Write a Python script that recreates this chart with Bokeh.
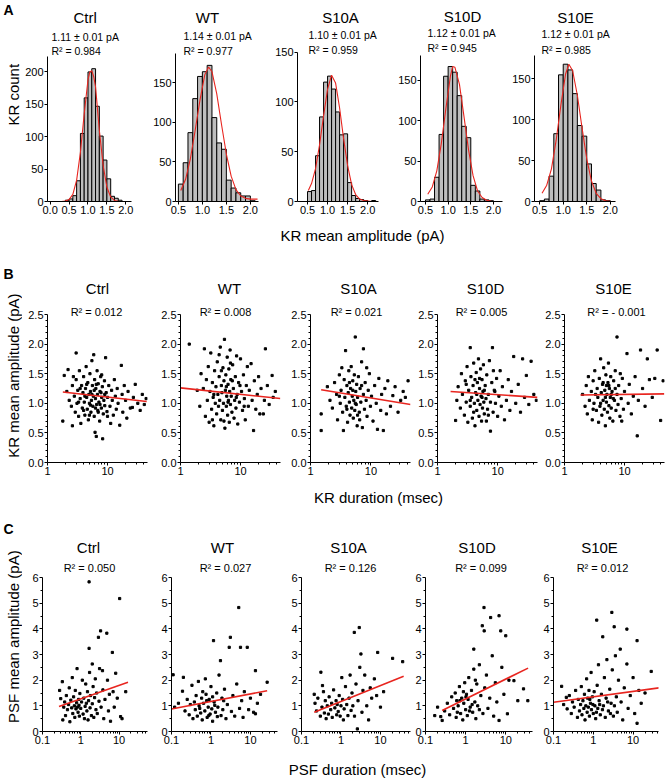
import math
from bokeh.plotting import figure
from bokeh.layouts import row, column
from bokeh.models import Range1d, Label, FixedTicker, NumeralTickFormatter
from bokeh.core.properties import value
from bokeh.embed import file_html
from bokeh.resources import INLINE

FONT = "Liberation Sans"
RED = "#e8251f"

groups = ["Ctrl", "WT", "S10A", "S10D", "S10E"]

# ---------------- Panel A: histograms ----------------
a_means = ["1.11 ± 0.01 pA", "1.14 ± 0.01 pA", "1.10 ± 0.01 pA", "1.12 ± 0.01 pA", "1.12 ± 0.01 pA"]
a_r2 = ["R² = 0.984", "R² = 0.977", "R² = 0.959", "R² = 0.945", "R² = 0.985"]

a_ctrl_bins = [0.45, 0.55, 0.65, 0.75, 0.85, 0.95, 1.05, 1.15, 1.25, 1.35, 1.45, 1.55, 1.65, 1.75, 1.85]
a_ctrl_counts = [2, 4, 9, 32, 105, 160, 200, 205, 147, 101, 64, 35, 8, 5, 2]
a_wt_bins = [0.55, 0.65, 0.75, 0.85, 0.95, 1.05, 1.15, 1.25, 1.35, 1.45, 1.55, 1.65, 1.75, 1.85, 1.95, 2.05]
a_wt_counts = [22, 49, 87, 130, 158, 164, 172, 106, 74, 66, 27, 17, 11, 7, 7, 1]
a_s10a_bins = [0.55, 0.65, 0.75, 0.85, 0.95, 1.05, 1.15, 1.25, 1.35, 1.45, 1.55, 1.65, 1.75, 1.85, 1.95, 2.05, 2.15]
a_s10a_counts = [10, 11, 46, 85, 120, 126, 113, 90, 67, 68, 19, 6, 3, 2, 1, 0, 1]
a_s10d_bins = [0.55, 0.65, 0.75, 0.85, 0.95, 1.05, 1.15, 1.25, 1.35, 1.45, 1.55, 1.65, 1.75, 1.85, 1.95]
a_s10d_counts = [2, 3, 30, 83, 155, 167, 160, 131, 93, 79, 20, 13, 3, 2, 1]
a_s10e_bins = [0.55, 0.65, 0.75, 0.85, 0.95, 1.05, 1.15, 1.25, 1.35, 1.45, 1.55, 1.65, 1.75, 1.85, 1.95]
a_s10e_counts = [1, 3, 31, 83, 155, 168, 161, 132, 93, 80, 46, 22, 14, 2, 1]

a_ctrl_fit_x = [0.0, 0.2, 0.3, 0.4, 0.5, 0.6, 0.7, 0.8, 0.9, 1.0, 1.05, 1.1, 1.15, 1.2, 1.3, 1.4, 1.5, 1.6, 1.7, 1.8, 1.9]
a_ctrl_fit_y = [0, 0, 0.1, 0.6, 3, 11, 33, 76, 135, 188, 200, 202, 193, 177, 110, 56, 22, 7, 1.6, 0.3, 0]
a_wt_fit_x = [0.55, 0.65, 0.75, 0.85, 0.95, 1.05, 1.13, 1.2, 1.3, 1.4, 1.5, 1.6, 1.7, 1.8, 1.9, 2.0, 2.15]
a_wt_fit_y = [14, 28, 54, 90, 128, 160, 170, 164, 136, 97, 60, 32, 15, 7, 4, 3, 3]
a_s10a_fit_x = [0.52, 0.6, 0.7, 0.8, 0.9, 1.0, 1.1, 1.2, 1.3, 1.4, 1.5, 1.6, 1.7, 1.8, 1.9, 2.1]
a_s10a_fit_y = [11, 18, 33, 57, 86, 113, 127, 119, 94, 63, 36, 17, 7, 2.5, 1, 0]
a_s10d_fit_x = [0.55, 0.65, 0.75, 0.85, 0.95, 1.05, 1.1, 1.15, 1.25, 1.35, 1.45, 1.55, 1.65, 1.75, 1.85, 1.95, 2.05]
a_s10d_fit_y = [9, 18, 38, 72, 115, 155, 167, 166, 145, 105, 64, 32, 13, 5, 1.5, 0.4, 0]
a_s10e_fit_x = [0.55, 0.65, 0.75, 0.85, 0.95, 1.05, 1.12, 1.2, 1.3, 1.4, 1.5, 1.6, 1.7, 1.8, 1.9, 2.0]
a_s10e_fit_y = [10, 20, 40, 75, 118, 156, 168, 160, 130, 90, 52, 25, 10, 3.5, 1, 0.3]

a_ctrl_yticks = [0, 50, 100, 150, 200]
a_yticks = [0, 50, 100, 150]
a_ctrl_xticks = [0.0, 0.5, 1.0, 1.5, 2.0]
a_xticks = [0.5, 1.0, 1.5, 2.0]

# ---------------- Panel B: KR amplitude vs duration ----------------
b_r2 = ["R² = 0.012", "R² = 0.008", "R² = 0.021", "R² = 0.005", "R² = - 0.001"]

b_ctrl_pts = [(1.8,0.70),(1.9,1.47),(2.1,1.20),(2.2,1.57),(2.3,1.05),(2.5,0.95),(2.6,0.62),(2.6,1.30),(2.8,1.12),(2.9,0.85),
    (3.0,1.85),(3.0,1.40),(3.1,1.00),(3.2,1.22),(3.3,0.78),(3.4,1.55),(3.5,1.08),(3.6,0.66),(3.7,1.30),(3.8,0.92),
    (3.9,1.18),(4.0,1.45),(4.1,1.02),(4.2,0.80),(4.3,1.25),(4.4,1.62),(4.5,1.10),(4.6,0.90),(4.7,1.35),(4.8,0.72),
    (4.9,1.15),(5.0,1.00),(5.1,1.50),(5.2,1.20),(5.3,0.85),(5.4,1.05),(5.5,1.72),(5.6,1.30),(5.7,0.95),(5.8,1.12),
    (5.9,1.82),(6.0,0.78),(6.1,1.40),(6.2,0.51),(6.3,1.08),(6.4,1.25),(6.5,0.44),(6.6,0.98),(6.7,1.55),(6.8,1.15),
    (6.9,0.88),(7.0,1.33),(7.2,1.02),(7.4,0.70),(7.5,1.20),(7.7,1.45),(7.9,0.92),(8.0,1.10),(8.2,1.28),(8.3,0.40),
    (8.5,0.82),(8.7,1.05),(8.9,1.38),(9.0,0.96),(9.3,1.77),(9.5,1.18),(9.8,0.86),(10,1.10),(10.5,1.30),(11,0.95),
    (11.3,0.66),(11.7,1.22),(12,1.05),(12.5,0.80),(13,1.40),(13.5,1.12),(14,0.90),(14.5,1.25),(15,1.00),(16,0.63),
    (17,1.64),(17.5,1.15),(18,0.85),(19,1.30),(20,1.05),(21,0.75),(22,1.20),(24,0.92),(26,0.93),(27,1.10),
    (29,1.32),(32,1.00),(35,0.88),(38,1.15),(41,0.98),(44,1.08),(3.5,1.25),(4.0,0.88),(4.5,1.32),(5.0,0.80),
    (5.5,1.15),(6.0,1.22),(6.5,1.32),(7.0,0.85),(7.5,0.98),(8.0,1.48),(9.0,1.15),(10,0.78),(4.2,1.12),(5.2,0.97),
    (6.3,0.92),(7.8,1.18),(3.3,1.02),(2.7,1.45)]
b_wt_pts = [(1.4,2.00),(1.9,1.22),(2.1,0.95),(2.2,1.50),(2.4,1.25),(2.5,1.92),(2.6,0.78),(2.7,1.40),(2.8,1.05),(2.9,1.62),
    (3.0,0.68),(3.1,1.20),(3.2,1.85),(3.3,0.90),(3.4,1.35),(3.5,1.10),(3.6,0.62),(3.7,1.55),(3.8,1.00),(3.9,1.28),
    (4.0,0.82),(4.1,1.70),(4.2,1.15),(4.3,0.95),(4.4,1.45),(4.5,1.05),(4.6,1.95),(4.7,0.72),(4.8,1.30),(4.9,1.18),
    (5.0,0.88),(5.1,1.60),(5.2,1.00),(5.3,1.38),(5.4,2.08),(5.5,0.58),(5.6,1.22),(5.7,1.48),(5.8,0.95),(5.9,1.12),
    (6.0,1.78),(6.1,0.80),(6.2,1.32),(6.3,1.05),(6.4,1.58),(6.5,0.68),(6.6,1.20),(6.7,1.90),(6.8,0.98),(6.9,1.40),
    (7.0,1.12),(7.2,0.85),(7.4,1.65),(7.6,1.25),(7.8,0.75),(8.0,1.05),(8.2,1.45),(8.4,0.92),(8.6,1.80),(8.8,1.15),
    (9.0,0.65),(9.3,1.35),(9.6,1.02),(10,1.75),(10.4,1.20),(10.8,0.88),(11.2,1.48),(11.6,1.08),(12,0.72),(12.5,1.30),
    (13,1.62),(13.5,0.95),(14,1.22),(15,1.67),(15.6,1.05),(16.5,0.54),(17,1.38),(18,0.90),(19,1.15),(20,1.45),
    (21,0.82),(22,1.25),(24,0.82),(25,1.05),(26,1.92),(28,1.30),(30,0.98),(33.6,1.47),(35,1.10),(38,1.20),
    (3.4,0.72),(4.4,1.82),(5.3,0.70),(6.2,1.02),(7.3,1.38),(8.5,1.10),(4.8,1.55),(3.6,1.15),(5.8,1.28),(6.8,1.68),
    (9.8,1.30),(11.5,0.95)]
b_s10a_pts = [(1.5,0.54),(1.5,0.82),(1.9,1.28),(2.1,1.05),(2.3,0.92),(2.5,1.35),(2.7,1.15),(2.8,0.72),(3.0,1.48),(3.1,1.00),
    (3.2,1.22),(3.4,0.85),(3.5,0.54),(3.6,1.40),(3.7,1.10),(3.8,1.89),(3.9,0.95),(4.0,1.30),(4.1,0.68),(4.2,1.18),
    (4.3,1.55),(4.4,1.02),(4.5,0.80),(4.6,1.25),(4.7,1.62),(4.8,0.92),(4.9,1.12),(5.0,1.38),(5.1,0.75),(5.2,1.05),
    (5.3,1.48),(5.4,0.88),(5.5,2.12),(5.6,1.20),(5.7,0.98),(5.8,1.32),(5.9,0.62),(6.0,1.10),(6.2,1.45),(6.4,0.85),
    (6.6,1.25),(6.8,1.02),(7.0,1.70),(7.2,0.59),(7.5,1.92),(7.5,1.15),(7.8,0.90),(8.0,1.35),(8.3,1.05),(8.6,0.78),
    (9.0,1.22),(9.4,1.50),(9.8,0.95),(10.2,1.12),(10.8,0.70),(11.5,1.30),(12.2,1.00),(12.8,0.56),(13.5,1.42),(14.5,0.88),
    (15,1.15),(16,0.54),(17,1.25),(18,0.82),(19,1.38),(21,0.95),(23,1.13),(25,1.28),(28,0.85),(31,1.05),
    (34,1.20),(37,1.10),(41,1.38),(3.3,1.60),(4.4,1.35),(5.5,1.00),(6.5,0.72),(4.0,0.90),(5.0,1.22),(7.0,1.30),
    (3.0,1.12),(8.5,1.60),(6.0,0.80)]
b_s10d_pts = [(2.0,0.71),(2.1,1.05),(2.2,1.28),(2.4,0.92),(2.5,1.50),(2.6,1.15),(2.8,0.80),(2.9,1.38),(3.0,1.02),(3.1,1.62),
    (3.2,0.68),(3.3,1.22),(3.5,1.94),(3.5,0.95),(3.6,1.45),(3.7,1.10),(3.8,0.75),(3.9,1.30),(4.0,1.68),(4.1,1.00),
    (4.2,0.62),(4.3,1.18),(4.4,1.52),(4.5,0.88),(4.6,1.35),(4.7,1.05),(4.8,1.75),(4.9,0.78),(5.0,1.25),(5.1,0.98),
    (5.2,1.58),(5.3,1.12),(5.4,0.70),(5.5,1.40),(5.6,0.92),(5.7,1.20),(5.8,1.65),(5.9,1.02),(6.0,0.82),(6.2,1.30),
    (6.4,1.08),(6.6,1.48),(6.8,0.90),(7.0,1.15),(7.3,1.72),(7.6,0.53),(7.6,1.02),(8.0,1.35),(8.2,1.94),(8.4,0.85),
    (8.8,1.22),(9.2,1.00),(9.6,1.42),(10,0.78),(10.5,1.12),(11,1.55),(11.5,0.95),(12,1.28),(13,0.72),(14,1.05),
    (15,1.40),(16,0.88),(17,1.20),(18.5,1.79),(20,1.00),(22,1.32),(24,0.85),(26,1.75),(28,1.10),(30,1.47),
    (33,0.98),(36,1.71),(40,1.15),(44,1.05),(3.0,1.32),(4.0,0.85),(4.5,1.15),(5.0,1.42),(6.0,1.22),(7.0,0.80),
    (3.5,1.05),(5.5,1.10),(8.5,1.55),(6.5,0.70),(4.2,1.40),(9.0,1.20)]
b_s10e_pts = [(2.0,1.15),(2.2,0.95),(2.3,1.30),(2.4,0.82),(2.5,1.45),(2.6,1.05),(2.8,1.20),(2.9,0.72),(3.0,1.38),(3.1,1.00),
    (3.2,1.55),(3.4,0.88),(3.5,1.25),(3.6,1.10),(3.7,0.68),(3.8,1.42),(3.9,0.95),(4.0,1.75),(4.1,1.18),(4.2,0.80),
    (4.3,1.32),(4.4,1.05),(4.5,1.60),(4.6,0.90),(4.7,1.22),(4.8,0.62),(4.9,1.48),(5.0,1.02),(5.1,1.15),(5.2,0.85),
    (5.3,1.35),(5.4,1.68),(5.5,0.96),(5.6,1.25),(5.7,0.75),(5.8,1.10),(5.9,1.45),(6.0,0.92),(6.2,1.20),(6.4,0.70),
    (6.6,1.38),(6.8,1.05),(7.0,1.55),(7.2,0.88),(7.5,2.12),(7.5,1.15),(7.8,0.98),(8.0,1.30),(8.4,0.78),(8.8,1.08),
    (9.2,1.42),(9.6,0.90),(10,1.20),(11,1.84),(11.5,1.00),(12,1.32),(13,0.82),(14,1.12),(15,1.45),(16.3,0.45),
    (17,1.05),(18.5,1.90),(20,1.25),(22,0.95),(24,1.75),(26,1.40),(29,1.10),(32,1.42),(35,1.90),(40,0.71),
    (44,1.38),(3.3,1.15),(4.4,1.35),(5.5,1.30),(6.5,1.08),(4.0,1.00),(5.0,1.30),(3.0,0.90),(7.0,1.25),(8.5,1.50),
    (6.0,1.15),(4.8,1.10),(9.0,0.70)]
# regression lines: (x_start, y_start, x_end, y_end)
b_ctrl_fit = (1.8, 1.19, 45, 1.03)
b_wt_fit = (1.0, 1.26, 46, 1.08)
b_s10a_fit = (1.5, 1.23, 45, 0.98)
b_s10d_fit = (1.65, 1.20, 46, 1.10)
b_s10e_fit = (1.85, 1.14, 46, 1.16)

b_xticks = [1, 10]
b_xminor = [2, 3, 4, 5, 6, 7, 8, 9, 20, 30, 40]
b_yticks = [0.0, 0.5, 1.0, 1.5, 2.0, 2.5]
b_yminor = [0.1, 0.2, 0.3, 0.4, 0.6, 0.7, 0.8, 0.9, 1.1, 1.2, 1.3, 1.4, 1.6, 1.7, 1.8, 1.9, 2.1, 2.2, 2.3, 2.4]

# ---------------- Panel C: PSF amplitude vs duration ----------------
c_r2 = ["R² = 0.050", "R² = 0.027", "R² = 0.126", "R² = 0.099", "R² = 0.012"]

c_ctrl_pts = [(0.28,1.60),(0.30,1.28),(0.33,1.94),(0.34,0.45),(0.36,0.95),(0.38,1.15),(0.40,0.62),(0.42,1.40),(0.45,0.85),(0.48,1.05),
    (0.50,1.70),(0.52,0.38),(0.55,1.22),(0.58,0.92),(0.60,2.10),(0.62,0.70),(0.65,1.35),(0.68,1.00),(0.70,0.55),(0.72,1.60),
    (0.75,0.88),(0.78,1.12),(0.80,2.45),(0.82,0.95),(0.85,0.75),(0.88,1.25),(0.90,1.02),(0.92,0.60),(0.95,1.48),(1.00,0.90),
    (1.05,1.15),(1.10,2.00),(1.15,0.68),(1.20,1.30),(1.25,0.50),(1.30,0.98),(1.35,1.85),(1.40,1.10),(1.45,0.80),(1.50,1.55),
    (1.55,0.45),(1.60,1.20),(1.65,5.83),(1.65,3.24),(1.70,2.30),(1.75,0.92),(1.80,1.40),(1.90,0.62),(2.00,2.63),(2.00,1.08),
    (2.10,1.75),(2.20,0.55),(2.30,1.32),(2.40,2.05),(2.50,0.85),(2.60,1.50),(2.70,0.70),(2.90,3.67),(3.00,1.18),(3.10,2.45),
    (3.30,3.92),(3.40,0.95),(3.70,2.37),(3.80,1.62),(4.00,0.50),(4.30,1.25),(4.80,3.83),(5.00,2.00),(5.30,0.80),(5.60,1.45),
    (6.00,0.40),(6.70,3.08),(7.00,1.55),(7.50,0.95),(8.20,2.27),(9.00,1.30),(10.4,5.18),(11.0,0.58),(12.0,0.50),(15.0,1.55)]
c_wt_pts = [(0.11,2.21),(0.12,0.95),(0.15,1.10),(0.19,1.57),(0.20,2.11),(0.22,0.80),(0.25,1.25),(0.28,0.65),(0.30,1.05),(0.33,1.80),
    (0.35,0.50),(0.38,1.15),(0.40,0.85),(0.42,1.40),(0.45,0.60),(0.48,1.95),(0.50,1.00),(0.55,0.72),(0.58,1.30),(0.60,0.45),
    (0.65,1.10),(0.70,0.80),(0.72,2.05),(0.75,1.45),(0.80,0.55),(0.85,0.95),(0.90,1.25),(0.95,0.68),(1.00,1.75),(1.05,0.88),
    (1.10,0.40),(1.16,3.54),(1.20,1.15),(1.30,0.75),(1.40,1.50),(1.50,0.95),(1.60,2.20),(1.74,2.76),(1.80,0.62),(1.90,1.30),
    (2.00,0.85),(2.20,1.65),(2.40,0.50),(2.60,1.05),(2.90,3.28),(3.10,3.67),(3.30,0.78),(3.60,1.40),(4.00,0.60),(4.50,1.85),
    (5.06,4.83),(5.30,0.90),(5.60,3.28),(6.00,1.20),(6.50,0.55),(7.00,1.55),(8.30,3.28),(9.00,0.85),(10.0,1.30),(12.0,0.75),
    (13.4,2.37),(13.4,0.69),(15.0,1.10),(18.0,1.45),(26.5,1.92),(0.62,1.55),(0.88,0.62),(1.25,1.02),(1.45,0.58),(2.10,1.20),
    (0.78,1.20),(1.10,1.35),(0.52,0.90)]
c_s10a_pts = [(0.21,1.45),(0.22,1.10),(0.24,0.80),(0.26,1.30),(0.30,0.60),(0.31,2.31),(0.33,0.95),(0.34,1.79),(0.36,1.55),(0.38,0.72),
    (0.40,1.20),(0.42,0.50),(0.45,1.00),(0.48,0.68),(0.50,1.35),(0.55,0.85),(0.58,1.10),(0.60,0.55),(0.65,1.62),(0.70,0.92),
    (0.75,1.20),(0.78,0.65),(0.80,1.05),(0.85,0.78),(0.90,1.40),(0.95,0.60),(1.00,1.00),(1.05,2.10),(1.10,1.25),(1.15,0.45),
    (1.20,0.88),(1.30,1.75),(1.40,1.05),(1.50,0.62),(1.60,1.30),(1.70,2.20),(1.80,0.82),(1.90,1.50),(2.00,1.00),(2.17,3.86),
    (2.20,0.60),(2.40,1.85),(2.60,0.10),(2.70,1.20),(2.90,4.05),(3.00,2.50),(3.20,3.02),(3.40,0.75),(3.60,1.60),(4.00,2.20),
    (4.50,1.00),(5.00,0.45),(5.50,1.70),(6.00,1.30),(7.00,2.05),(8.00,1.40),(8.50,3.08),(10.0,0.95),(12.0,1.55),(20.3,2.85),
    (36.5,2.72)]
c_s10d_pts = [(0.17,0.62),(0.20,0.95),(0.24,0.58),(0.26,0.43),(0.30,0.80),(0.35,1.10),(0.40,0.65),(0.45,1.35),(0.50,0.90),(0.55,1.50),
    (0.58,0.55),(0.60,1.20),(0.65,1.00),(0.70,1.75),(0.75,0.70),(0.80,1.30),(0.85,0.45),(0.90,1.10),(0.95,1.90),(1.00,0.85),
    (1.05,1.45),(1.10,0.62),(1.15,1.25),(1.20,2.10),(1.30,0.95),(1.40,1.60),(1.50,0.75),(1.60,3.21),(1.60,2.43),(1.70,1.15),
    (1.80,0.50),(1.90,1.85),(2.00,1.00),(2.20,2.60),(2.40,1.40),(2.60,4.12),(2.70,0.70),(2.87,4.83),(2.90,3.92),(3.00,1.70),
    (3.30,2.20),(3.60,0.90),(4.00,1.30),(4.20,4.44),(4.60,2.95),(5.00,0.60),(5.50,1.90),(6.00,1.15),(6.80,4.51),(6.80,0.43),
    (7.50,3.92),(8.00,2.50),(9.00,1.45),(10.0,3.73),(11.0,0.69),(12.0,2.00),(16.0,1.98),(20.0,1.20),(27.7,1.66),(35.5,1.20),
    (0.62,0.75),(0.88,1.55),(1.25,0.80),(1.45,1.05),(0.72,1.20),(1.02,1.35),(2.20,0.85),(1.75,2.00)]
c_s10e_pts = [(0.16,1.76),(0.18,1.05),(0.21,1.33),(0.22,0.88),(0.25,1.40),(0.28,0.70),(0.30,1.15),(0.33,0.95),(0.36,1.60),(0.40,0.55),
    (0.42,1.25),(0.45,0.80),(0.48,1.05),(0.50,1.75),(0.52,0.65),(0.55,1.20),(0.58,0.90),(0.60,1.45),(0.62,0.45),(0.65,1.00),
    (0.68,2.05),(0.70,0.75),(0.72,1.30),(0.75,0.95),(0.78,1.60),(0.80,0.60),(0.85,1.10),(0.88,2.30),(0.90,0.85),(0.95,1.35),
    (1.00,0.70),(1.05,1.55),(1.10,1.00),(1.15,0.50),(1.22,4.34),(1.25,1.80),(1.30,0.90),(1.35,2.60),(1.40,1.20),(1.50,0.65),
    (1.60,1.45),(1.73,3.69),(1.80,1.00),(1.90,2.10),(2.00,0.55),(2.10,1.30),(2.20,2.80),(2.40,0.80),(2.60,1.65),(2.80,1.10),
    (2.93,4.64),(3.00,2.40),(3.20,0.60),(3.35,4.08),(3.60,2.95),(3.80,1.35),(4.00,0.75),(4.30,2.00),(4.76,3.21),(5.00,1.15),
    (5.50,0.45),(6.00,1.70),(7.00,3.99),(7.00,2.63),(7.50,0.90),(8.50,1.40),(10.0,2.10),(11.0,0.70),(12.6,3.54),(12.6,0.32),
    (14.0,1.60),(16.0,1.10),(20.0,1.50),(28.6,2.34),(0.82,1.25),(1.20,0.75),(1.45,1.05),(2.30,1.15),(0.98,1.05),(1.70,0.85),
    (2.70,0.70),(3.40,1.00)]
c_ctrl_fit = (0.27, 0.97, 17.2, 1.92)
c_wt_fit = (0.1, 0.88, 26.5, 1.59)
c_s10a_fit = (0.21, 0.75, 38.6, 2.15)
c_s10d_fit = (0.26, 0.82, 36, 2.47)
c_s10e_fit = (0.1, 1.14, 44.8, 1.70)

c_xticks = [0.1, 1, 10]
c_xminor = [0.2, 0.3, 0.4, 0.5, 0.6, 0.7, 0.8, 0.9, 2, 3, 4, 5, 6, 7, 8, 9, 20, 30, 40, 50]
c_yticks = [0, 1, 2, 3, 4, 5, 6]
c_yminor = [0.5, 1.5, 2.5, 3.5, 4.5, 5.5]

# ---------------- layout geometry (page pixel coordinates) ----------------
PAGE_W = 668
ROW_A = (0, 226)
ROW_B = (248, 482)
ROW_C = (510, 750)
LEFT_STRIP = (0, 22)
geom_a = [
    dict(cl=22, cr=142, fl=46, fr=131, ft=57, fb=205, xr=(-0.07, 2.15), yr=(0, 224)),
    dict(cl=142, cr=268, fl=175, fr=258, ft=53, fb=201, xr=(0.44, 2.17), yr=(0, 187)),
    dict(cl=268, cr=390, fl=297, fr=378, ft=52, fb=202, xr=(0.25, 2.27), yr=(0, 150)),
    dict(cl=390, cr=508, fl=420, fr=502, ft=55, fb=202, xr=(0.39, 2.2), yr=(0, 181)),
    dict(cl=508, cr=668, fl=534, fr=615, ft=55, fb=202, xr=(0.39, 2.11), yr=(0, 179)),
]
geom_b = [
    dict(cl=22, cr=153, fl=47, fr=147, ft=314, fb=462, xr=(1, 46.4), yr=(0, 2.5)),
    dict(cl=153, cr=285, fl=180, fr=280, ft=314, fb=462, xr=(1, 46.4), yr=(0, 2.5)),
    dict(cl=285, cr=413, fl=310, fr=410, ft=314, fb=462, xr=(1, 45), yr=(0, 2.5)),
    dict(cl=413, cr=538, fl=437, fr=537, ft=314, fb=462, xr=(1, 46), yr=(0, 2.5)),
    dict(cl=538, cr=668, fl=564, fr=664, ft=314, fb=462, xr=(1, 46.4), yr=(0, 2.5)),
]
geom_c = [
    dict(cl=22, cr=150, fl=42, fr=147, ft=577, fb=731, xr=(0.1, 55.6), yr=(0, 6)),
    dict(cl=150, cr=280, fl=171, fr=277, ft=577, fb=731, xr=(0.1, 48.5), yr=(0, 6)),
    dict(cl=280, cr=412, fl=301, fr=410, ft=577, fb=731, xr=(0.1, 57.6), yr=(0, 6)),
    dict(cl=412, cr=536, fl=424, fr=532, ft=577, fb=731, xr=(0.1, 46.4), yr=(0, 6)),
    dict(cl=536, cr=668, fl=553, fr=658, ft=577, fb=731, xr=(0.1, 43.6), yr=(0, 6)),
]


def make_panel(g, rows, xlog):
    """Panel whose frame reaches the top of its row (so that the titles drawn
    inside it are not clipped); the y axis is bounded to the data range."""
    top, bot = rows
    y0, y1 = g["yr"]
    y_ext = y0 + (g["fb"] - top) / (g["fb"] - g["ft"]) * (y1 - y0)
    p = figure(width=g["cr"] - g["cl"], height=bot - top,
               x_range=Range1d(*g["xr"]), y_range=Range1d(y0, y_ext),
               x_axis_type="log" if xlog else "linear",
               output_backend="svg", toolbar_location=None, title=None,
               min_border_left=g["fl"] - g["cl"], min_border_right=g["cr"] - g["fr"],
               min_border_top=0, min_border_bottom=bot - g["fb"])
    p.outline_line_color = None
    p.background_fill_color = "white"
    p.border_fill_color = "white"
    p.xgrid.visible = False
    p.ygrid.visible = False
    p.yaxis.bounds = (y0, y1)
    for ax in (p.xaxis[0], p.yaxis[0]):
        ax.axis_line_color = "black"
        ax.axis_line_width = 1
        ax.major_tick_line_color = "black"
        ax.minor_tick_line_color = "black"
        ax.major_tick_out = 3
        ax.major_tick_in = 0
        ax.minor_tick_out = 2
        ax.minor_tick_in = 0
        ax.major_label_standoff = 1
        ax.major_label_text_font = FONT
        ax.major_label_text_font_size = "11px"
        ax.major_label_text_color = "black"
    return p


def add_text(p, g, xlog, rx, ry, text, size, align="center"):
    t = (rx - g["fl"]) / (g["fr"] - g["fl"])
    x0, x1 = g["xr"]
    if xlog:
        x = 10 ** (math.log10(x0) + t * (math.log10(x1) - math.log10(x0)))
    else:
        x = x0 + t * (x1 - x0)
    s = (g["fb"] - ry) / (g["fb"] - g["ft"])
    y0, y1 = g["yr"]
    y = y0 + s * (y1 - y0)
    p.text(x=[x], y=[y], text=[text], text_font=value(FONT), text_font_size=f"{size}px",
           text_align=align, text_baseline="middle", text_color="black",
           text_font_style="normal")


def blank(width, height, xr, yr):
    p = figure(width=width, height=height, x_range=Range1d(*xr), y_range=Range1d(*yr),
               x_axis_type=None, y_axis_type=None, output_backend="svg", toolbar_location=None,
               title=None, min_border_left=0, min_border_right=0, min_border_top=0, min_border_bottom=0)
    p.outline_line_color = None
    p.background_fill_color = "white"
    p.border_fill_color = "white"
    p.xgrid.visible = False
    p.ygrid.visible = False
    return p


def strip(rows, text, cx, cy):
    top, bot = rows
    p = blank(PAGE_W, bot - top, (0, PAGE_W), (bot, top))
    p.add_layout(Label(x=cx, y=cy, text=text, text_font=FONT, text_font_size="15px",
                       text_align="center", text_baseline="middle", text_color="black"))
    return p


def left_strip(rows, letter, letter_y, text, text_y):
    top, bot = rows
    l, r = LEFT_STRIP
    p = blank(r - l, bot - top, (l, r), (bot, top))
    p.add_layout(Label(x=3, y=letter_y, text=letter, text_font=FONT, text_font_size="14px",
                       text_font_style="bold", text_align="left", text_baseline="middle",
                       text_color="black"))
    p.add_layout(Label(x=12.5, y=text_y, text=text, text_font=FONT, text_font_size="15px",
                       text_align="center", text_baseline="middle", text_color="black",
                       angle=math.pi / 2))
    return p


# ---------------- build row A ----------------
a_bins = [a_ctrl_bins, a_wt_bins, a_s10a_bins, a_s10d_bins, a_s10e_bins]
a_counts = [a_ctrl_counts, a_wt_counts, a_s10a_counts, a_s10d_counts, a_s10e_counts]
a_fx = [a_ctrl_fit_x, a_wt_fit_x, a_s10a_fit_x, a_s10d_fit_x, a_s10e_fit_x]
a_fy = [a_ctrl_fit_y, a_wt_fit_y, a_s10a_fit_y, a_s10d_fit_y, a_s10e_fit_y]
a_title_pos = [(84, 17), (207, 17), (340, 17), (462, 16), (575, 17)]
a_sub_left = [50, 183, 308, 427, 541]
a_sub_y = [(37, 52), (35, 50), (35, 50), (33, 48), (34, 50)]

figs_a = [left_strip(ROW_A, "A", 11, "KR count", 106)]
for i, g in enumerate(geom_a):
    p = make_panel(g, ROW_A, False)
    p.vbar(x=a_bins[i], top=a_counts[i], width=0.1, bottom=0,
           fill_color="#bebebe", line_color="black", line_width=1)
    p.line(a_fx[i], a_fy[i], color=RED, line_width=1.1)
    p.xaxis.ticker = FixedTicker(ticks=a_ctrl_xticks if i == 0 else a_xticks, minor_ticks=[])
    p.xaxis.formatter = NumeralTickFormatter(format="0.0")
    p.yaxis.ticker = FixedTicker(ticks=a_ctrl_yticks if i == 0 else a_yticks, minor_ticks=[])
    tx, ty = a_title_pos[i]
    add_text(p, g, False, tx, ty, groups[i], 15)
    add_text(p, g, False, a_sub_left[i], a_sub_y[i][0], a_means[i], 10.5, align="left")
    add_text(p, g, False, a_sub_left[i], a_sub_y[i][1], a_r2[i], 10.5, align="left")
    figs_a.append(p)

# ---------------- build row B ----------------
b_pts = [b_ctrl_pts, b_wt_pts, b_s10a_pts, b_s10d_pts, b_s10e_pts]
b_fits = [b_ctrl_fit, b_wt_fit, b_s10a_fit, b_s10d_fit, b_s10e_fit]
b_title_x = [97, 229, 358, 485, 613]
b_r2_x = [96, 225, 356, 481, 616]

figs_b = [left_strip(ROW_B, "B", 276, "KR mean amplitude (pA)", 387)]
for i, g in enumerate(geom_b):
    p = make_panel(g, ROW_B, True)
    xs = [q[0] for q in b_pts[i]]
    ys = [q[1] for q in b_pts[i]]
    p.scatter(xs, ys, marker="square", size=2.2, color="black")
    f = b_fits[i]
    p.line([f[0], f[2]], [f[1], f[3]], color=RED, line_width=1.6)
    p.xaxis.ticker = FixedTicker(ticks=b_xticks, minor_ticks=b_xminor)
    p.xaxis.formatter = NumeralTickFormatter(format="0.[0]")
    p.yaxis.ticker = FixedTicker(ticks=b_yticks, minor_ticks=b_yminor)
    p.yaxis.formatter = NumeralTickFormatter(format="0.0")
    add_text(p, g, True, b_title_x[i], 288, groups[i], 15)
    add_text(p, g, True, b_r2_x[i], 311, b_r2[i], 11)
    figs_b.append(p)

# ---------------- build row C ----------------
c_pts = [c_ctrl_pts, c_wt_pts, c_s10a_pts, c_s10d_pts, c_s10e_pts]
c_fits = [c_ctrl_fit, c_wt_fit, c_s10a_fit, c_s10d_fit, c_s10e_fit]
c_title_x = [88, 222, 348, 476, 599]
c_r2_x = [89, 225, 350, 480, 602]

figs_c = [left_strip(ROW_C, "C", 530, "PSF mean amplitude (pA)", 647)]
for i, g in enumerate(geom_c):
    p = make_panel(g, ROW_C, True)
    xs = [q[0] for q in c_pts[i]]
    ys = [q[1] for q in c_pts[i]]
    p.scatter(xs, ys, marker="square", size=2.2, color="black")
    f = c_fits[i]
    p.line([f[0], f[2]], [f[1], f[3]], color=RED, line_width=1.6)
    p.xaxis.ticker = FixedTicker(ticks=c_xticks, minor_ticks=c_xminor)
    p.xaxis.formatter = NumeralTickFormatter(format="0.[0]")
    p.yaxis.ticker = FixedTicker(ticks=c_yticks, minor_ticks=c_yminor)
    p.yaxis.formatter = NumeralTickFormatter(format="0")
    add_text(p, g, True, c_title_x[i], 547, groups[i], 15)
    add_text(p, g, True, c_r2_x[i], 567, c_r2[i], 11)
    figs_c.append(p)

strip_a = strip((226, 248), "KR mean amplitude (pA)", 362, 235)
strip_b = strip((482, 510), "KR duration (msec)", 378, 497)
strip_c = strip((750, 781), "PSF duration (msec)", 357, 769)

layout = column(row(*figs_a), strip_a, row(*figs_b), strip_b, row(*figs_c), strip_c)

with open("out.html", "w") as fh:
    fh.write(file_html(layout, INLINE))
